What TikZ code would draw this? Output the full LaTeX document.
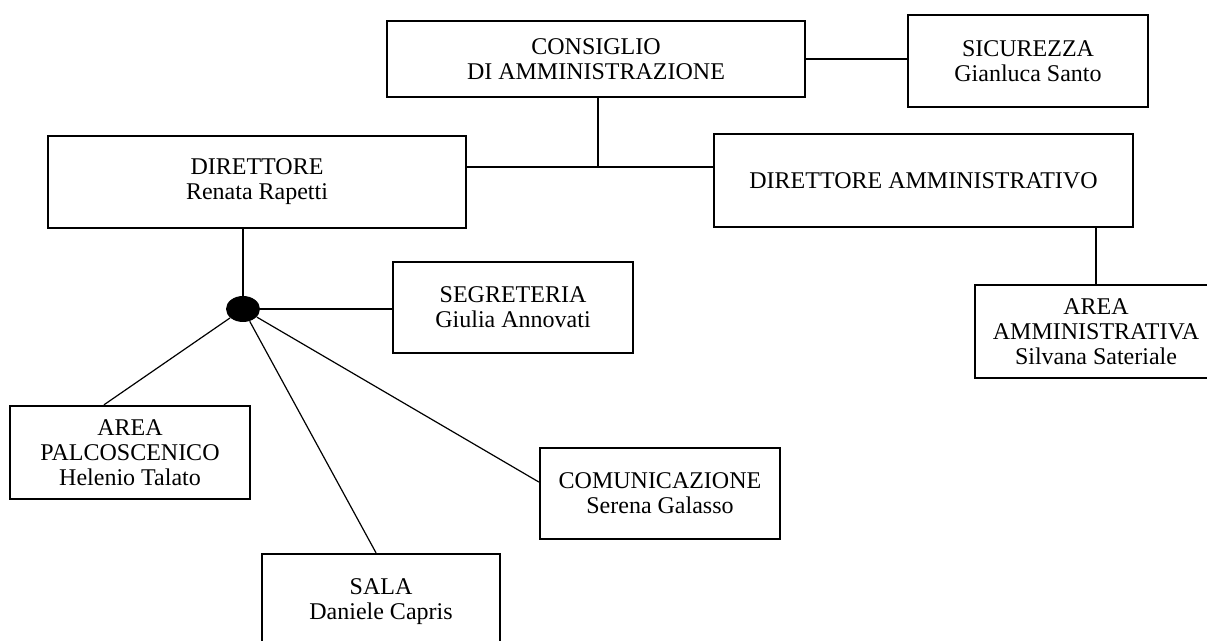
\documentclass[tikz,border=0pt]{standalone}
\usepackage{fontspec}
\setmainfont{Liberation Serif}
\usetikzlibrary{shapes.geometric}

\begin{document}
\begin{tikzpicture}[x=0.5pt, y=-0.5pt,
        main/.style = {draw, rectangle, line width=1.2pt, align=center, inner sep=0pt, font=\fontsize{12pt}{12.5pt}\selectfont},
        hub/.style = {ellipse, fill, minimum width=17pt, minimum height=13pt, inner sep=0pt},
        link/.style = {line width=0.6pt}]
        \useasboundingbox (0,0) rectangle (1207,641);
        \node[main, minimum width=209pt, minimum height=38pt] (1) at (596,59) {CONSIGLIO\\DI AMMINISTRAZIONE};
        \node[main, minimum width=120pt, minimum height=46pt] (2) at (1028,61) {SICUREZZA\\Gianluca Santo};
        \node[main, minimum width=209pt, minimum height=46pt] (3) at (257,182) {DIRETTORE\\Renata Rapetti};
        \node[main, minimum width=209.5pt, minimum height=46.5pt] (4) at (923.5,180.5) {DIRETTORE AMMINISTRATIVO};
        \node[main, minimum width=120pt, minimum height=45.5pt] (5) at (513,307.5) {SEGRETERIA\\Giulia Annovati};
        \node[main, minimum width=121pt, minimum height=46.5pt] (6) at (1096,331.5) {AREA\\AMMINISTRATIVA\\Silvana Sateriale};
        \node[main, minimum width=120pt, minimum height=46.5pt] (7) at (130,452.5) {AREA\\PALCOSCENICO\\Helenio Talato};
        \node[main, minimum width=120pt, minimum height=45.5pt] (8) at (660,493.5) {COMUNICAZIONE\\Serena Galasso};
        \node[main, minimum width=119pt, minimum height=48pt] (9) at (381,602) {SALA\\Daniele Capris};
        \node[hub] (h) at (243,309) {};
        \coordinate (j) at (598,167);
        \draw[link] (1.south -| j) -- (j);
        \draw[link] (3.east |- j) -- (4.west |- j);
        \draw[link] (1.east) -- (1.east -| 2.west);
        \draw[link] (6.north) -- (6.north |- 4.south);
        \draw[link] (h) -- (h |- 3.south);
        \draw[link] (h) -- (h -| 5.west);
        \draw[link] (h) -- ([xshift=-13pt]7.north);
        \draw[link] (h) -- ([xshift=-2.5pt]9.north);
        \draw[link] (h) -- ([yshift=5.75pt]8.west);
    \end{tikzpicture}
\end{document}
